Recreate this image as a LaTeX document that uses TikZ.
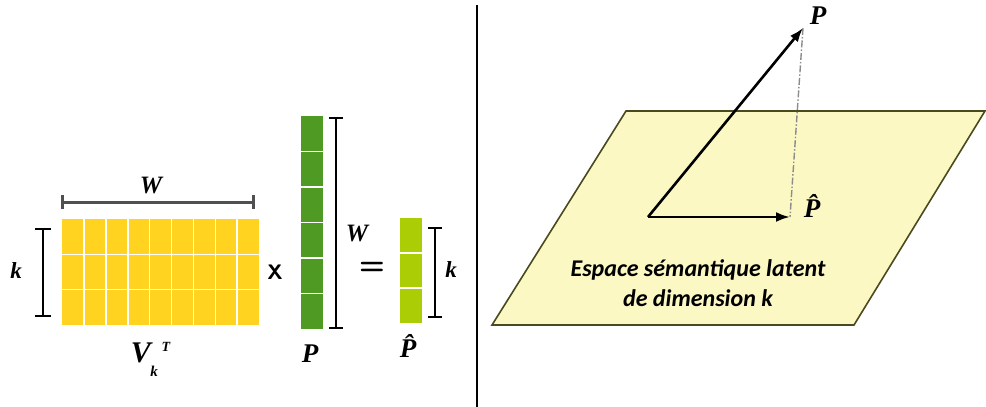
\documentclass[tikz,border=0pt]{standalone}
\usepackage{fontspec}
\setmainfont{Liberation Serif}
\newfontfamily\labfont{Carlito}
\usetikzlibrary{arrows.meta}
\definecolor{cyel}{HTML}{FFD320}
\definecolor{cgreen}{HTML}{4E9A22}
\definecolor{clight}{HTML}{AACD05}
\definecolor{cplane}{HTML}{FBF8C3}
\definecolor{cedge}{HTML}{4A4A1E}
\definecolor{cbar}{HTML}{505050}
\tikzset{
  dimbar/.style={line width=2.4pt,black},
  mlab/.style={font=\fontsize{25}{25}\selectfont\bfseries\itshape,inner sep=0pt},
  vec/.style={line width=2.6pt,-{Latex[length=14pt,width=10pt]}},
}
\begin{document}
\begin{tikzpicture}[x=1pt,y=-1pt]
\useasboundingbox (0,0) rectangle (986,407);
% yellow matrix
\foreach \i in {0,...,8}{
  \foreach \j in {0,...,2}{
    \fill[cyel] (62+\i*21.9,219+\j*35.3) rectangle ++(21.9,35.3);
  }
}
\foreach \i in {1,...,8}{ \draw[white,line width=1.6pt] (62+\i*21.9,219) -- (62+\i*21.9,325); }
\foreach \j in {1,2}{ \draw[white,line width=1.6pt] (62,219+\j*35.3) -- (259,219+\j*35.3); }
% W bar top
\coordinate (wl) at (62,202); \coordinate (wr) at (253,202);
\draw[cbar,line width=3pt] (wl) -- (wr);
\draw[cbar,line width=3pt] ([yshift=-7]wl) -- ([yshift=7]wl);
\draw[cbar,line width=3pt] ([yshift=-7]wr) -- ([yshift=7]wr);
\node[mlab] (W1) at (151,186) {W};
% k bar left
\coordinate (kt) at (43,229); \coordinate (kb) at (43,316);
\draw[dimbar] (kt) -- (kb);
\draw[dimbar] ([xshift=-8]kt) -- ([xshift=8]kt);
\draw[dimbar] ([xshift=-8]kb) -- ([xshift=8]kb);
\node[mlab,font=\fontsize{23}{23}\selectfont\bfseries\itshape] (k1) at (16,271) {k};
\node[font=\sffamily\fontsize{21}{21}\selectfont\bfseries,inner sep=0pt] (x) at (275,272) {X};
% V_k^T
\node[mlab,font=\fontsize{30}{30}\selectfont\bfseries\itshape] (V) at (141,353) {V};
\node[mlab,font=\fontsize{14}{14}\selectfont\bfseries\itshape] (T) at (166,347) {T};
\node[mlab,font=\fontsize{15}{15}\selectfont\bfseries\itshape] (ks) at (154,371) {k};
% green P column
\foreach \j in {0,...,5}{ \fill[cgreen] (301,116+\j*35.5) rectangle ++(22,35.5); }
\foreach \j in {1,...,5}{ \draw[white,line width=1.4pt] (301,116+\j*35.5) -- (323,116+\j*35.5); }
\coordinate (pt) at (336,118); \coordinate (pb) at (336,328);
\draw[dimbar] (pt) -- (pb);
\draw[dimbar] ([xshift=-7]pt) -- ([xshift=7]pt);
\draw[dimbar] ([xshift=-7]pb) -- ([xshift=7]pb);
\node[mlab] (W2) at (357,234) {W};
\node[mlab,font=\fontsize{27}{27}\selectfont\bfseries\itshape] (P1) at (310,354) {P};
\node[font=\sffamily\fontsize{30}{30}\selectfont\bfseries,inner sep=0pt] (eq) at (372,268) {=};
% light green column
\foreach \j in {0,...,2}{ \fill[clight] (400,218+\j*35) rectangle ++(22,35); }
\foreach \j in {1,2}{ \draw[white,line width=1.4pt] (400,218+\j*35) -- (422,218+\j*35); }
\coordinate (ht) at (435,228); \coordinate (hb) at (435,317);
\draw[dimbar] (ht) -- (hb);
\draw[dimbar] ([xshift=-7]ht) -- ([xshift=7]ht);
\draw[dimbar] ([xshift=-7]hb) -- ([xshift=7]hb);
\node[mlab,font=\fontsize{23}{23}\selectfont\bfseries\itshape] (k2) at (451,270) {k};
\node[mlab,font=\fontsize{27}{27}\selectfont\bfseries\itshape] (Ph1) at (408,346) {\^{P}};
% divider
\draw[black,line width=2.2pt] (477,5) -- (477,407);
% plane
\draw[cedge,fill=cplane,line width=1.6pt] (626,111) -- (985,111) -- (854,325) -- (492,325) -- cycle;
\node[font=\labfont\fontsize{24}{30}\selectfont\bfseries\itshape,align=center,inner sep=0pt] (txt) at (698,283) {Espace sémantique latent\\de dimension k};
% vectors
\coordinate (O) at (648,217);
\coordinate (Ptip) at (803,28);
\coordinate (Phtip) at (790,217);
\draw[gray!90,line width=1.4pt,dash pattern=on 7pt off 2pt on 1.5pt off 2pt] (Ptip) -- (Phtip);
\draw[vec] (O) -- (Ptip);
\draw[vec] (O) -- (Phtip);
\node[mlab,font=\fontsize{27}{27}\selectfont\bfseries\itshape] (P2) at (818,16) {P};
\node[mlab,font=\fontsize{27}{27}\selectfont\bfseries\itshape] (Ph2) at (812,206) {\^{P}};
\end{tikzpicture}
\end{document}
